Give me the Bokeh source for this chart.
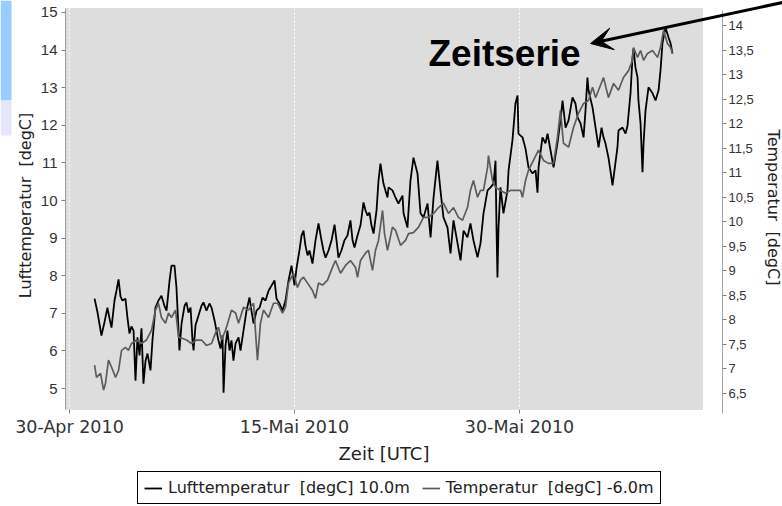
import math
from bokeh.plotting import figure
from bokeh.models import (Range1d, LinearAxis, FixedTicker, Legend, LegendItem,
                          BoxAnnotation, Label, Arrow, VeeHead)
from bokeh.embed import file_html
from bokeh.resources import INLINE

# ---------------- data (days since 30-Apr-2010 00 UTC) ----------------
luft_days = [1.67, 1.87, 2.13, 2.33, 2.53, 2.67, 2.80, 3.00, 3.13, 3.27, 3.40, 3.53, 3.73, 3.87, 4.00,
             4.13, 4.27, 4.40, 4.53, 4.67, 4.80, 4.93, 5.07, 5.20, 5.40, 5.53, 5.73, 5.93, 6.13, 6.33,
             6.47, 6.67, 6.80, 7.00, 7.13, 7.27, 7.33, 7.47, 7.67, 7.80, 7.93, 8.07, 8.20, 8.27, 8.40,
             8.60, 8.80, 8.93, 9.13, 9.33, 9.47, 9.67, 9.80, 9.93, 10.07, 10.20, 10.27, 10.40, 10.53,
             10.67, 10.80, 10.93, 11.07, 11.27,
             11.40, 11.60, 11.80, 12.00, 12.13, 12.27, 12.47, 12.67, 12.87, 13.07, 13.27, 13.47, 13.67,
             13.80, 14.00, 14.20, 14.40, 14.60, 14.80, 15.00, 15.13, 15.33, 15.47, 15.60, 15.73, 15.87,
             16.00, 16.20, 16.40, 16.60, 16.80, 16.93, 17.07, 17.27, 17.47, 17.67, 17.80, 17.93, 18.13,
             18.33, 18.53, 18.73, 18.87, 19.00, 19.20, 19.40, 19.60, 19.73, 19.87, 20.00, 20.13, 20.27,
             20.47, 20.60, 20.73, 20.93,
             21.20, 21.27, 21.53, 21.73, 21.93, 22.20, 22.27, 22.53, 22.73, 22.93, 23.20, 23.40, 23.60,
             23.87, 24.07, 24.27, 24.53, 24.73, 24.93, 25.20, 25.40, 25.60, 25.87, 26.07, 26.27, 26.53,
             26.73, 26.93, 27.20, 27.40, 27.60, 27.87, 28.07, 28.27, 28.40, 28.47, 28.53, 28.60, 28.73,
             28.93, 29.20, 29.27, 29.53, 29.73, 29.87, 29.93, 30.20, 30.40,
             30.60, 30.87, 31.07, 31.20, 31.27, 31.53, 31.73, 31.87, 32.07, 32.27, 32.53, 32.73, 32.87,
             33.07, 33.27, 33.53, 33.73, 33.87, 34.07, 34.27, 34.40, 34.53, 34.60, 34.87, 35.07, 35.20,
             35.27, 35.47, 35.60, 35.73, 35.93, 36.13, 36.20, 36.33, 36.53, 36.60, 36.87, 37.07, 37.20,
             37.40, 37.53, 37.60, 37.73, 37.87, 37.93, 38.07, 38.20, 38.27, 38.40, 38.60, 38.87, 39.07,
             39.27, 39.40, 39.53, 39.73, 39.93, 40.07, 40.20]
luft_vals = [7.39, 7.02, 6.41, 6.76, 7.15, 6.86, 6.62, 7.34, 7.60, 7.90, 7.45, 7.34, 7.39, 6.86, 6.46,
             6.65, 6.54, 5.21, 6.36, 5.88, 6.60, 5.13, 5.74, 5.93, 5.48, 6.28, 7.15, 7.34, 7.47, 7.20,
             7.07, 7.87, 8.27, 8.27, 7.69, 6.54, 6.01, 6.73, 7.20, 7.29, 7.02, 7.15, 6.28, 6.01, 6.68,
             6.94, 7.20, 7.29, 7.07, 7.26, 7.15, 6.81, 6.54, 6.28, 6.06, 6.41, 4.89, 6.14, 6.54,
             6.01, 6.28, 5.74, 6.20, 6.36,
             6.01, 6.54, 7.07, 7.42, 7.07, 6.73, 7.07, 7.15, 7.42, 7.34, 7.60, 7.74, 7.87,
             7.39, 7.26, 7.07, 7.34, 7.87, 8.27, 7.74, 8.19, 8.67, 9.07, 9.20, 8.80, 8.54,
             8.67, 8.32, 8.94, 9.39, 8.94, 8.67, 8.48, 8.67, 8.94, 9.36, 8.94, 8.48, 8.67,
             8.94, 9.07, 9.47, 8.94, 8.75, 9.07, 9.34, 9.95, 9.74, 9.60, 9.68, 9.34, 9.12,
             9.74, 10.53, 10.98, 10.45,
             10.08, 10.35, 10.27, 10.08, 9.92, 10.13, 9.66, 9.28, 10.53, 11.14, 10.72, 9.66, 9.55,
             9.92, 9.02, 10.08, 11.06, 10.27, 9.55, 9.28, 8.59, 9.47, 8.86, 8.41, 9.20, 9.02,
             9.39, 8.94, 8.49, 8.86, 9.66, 10.27, 10.35, 10.45, 11.06, 9.20, 7.95, 9.28, 10.35,
             9.66, 10.27, 10.80, 11.60, 12.58, 12.79, 11.78, 11.68, 11.38,
             10.88, 10.72, 10.80, 10.21, 10.88, 11.68, 11.52, 11.78, 11.33, 10.88, 11.52, 12.13, 12.66,
             11.94, 12.13, 12.74, 12.58, 12.21, 12.05, 11.68, 12.39, 13.27, 12.93, 12.47, 11.94, 11.60,
             11.41, 11.94, 11.68, 11.52, 11.14, 10.61, 10.40, 10.80, 11.41, 11.86, 11.94, 11.78, 11.99,
             12.85, 13.80, 14.04, 13.54, 13.27, 12.66, 12.05, 10.75, 11.52, 12.39, 13.01, 12.85, 12.66,
             12.93, 13.46, 14.18, 14.60, 14.34, 14.18, 13.91]

boden_days = [1.67, 1.80, 2.07, 2.27, 2.40, 2.60, 2.80, 3.07, 3.27, 3.47, 3.73, 3.93, 4.13, 4.47, 4.80,
              5.13, 5.47, 5.73, 5.93, 6.13, 6.40, 6.60, 6.80, 7.07, 7.27, 7.47, 7.80, 8.13, 8.47, 8.80,
              9.13, 9.47, 9.73, 9.93, 10.13, 10.40, 10.60, 10.80, 11.07, 11.27,
              11.60, 11.93, 12.27, 12.53, 12.73, 12.93, 13.27, 13.60, 13.87, 14.20, 14.40, 14.60, 14.93,
              15.20, 15.40, 15.60, 15.87, 16.20, 16.40, 16.60, 16.87, 17.20, 17.53, 17.73, 18.07, 18.40,
              18.73, 19.07, 19.20, 19.40, 19.73, 19.93, 20.20, 20.40, 20.60, 20.87, 21.00,
              21.20, 21.53, 21.73, 22.07, 22.40, 22.60, 22.93, 23.27, 23.60, 23.93, 24.27, 24.60, 24.93,
              25.27, 25.60, 25.93, 26.20, 26.53, 26.73, 26.93, 27.20, 27.40, 27.60, 27.87, 27.93, 28.20,
              28.40, 28.73, 29.07, 29.40, 29.73, 30.07, 30.20, 30.40, 30.60,
              30.93, 31.27, 31.60, 31.93, 32.27, 32.53, 32.73, 32.93, 33.27, 33.60, 33.93, 34.27, 34.60,
              34.87, 35.07, 35.27, 35.60, 35.93, 36.27, 36.60, 36.93, 37.27, 37.53, 37.60, 37.87, 38.07,
              38.27, 38.53, 38.87, 39.20, 39.40, 39.60, 39.87, 40.07, 40.20]
boden_vals = [7.08, 6.83, 6.91, 6.57, 6.71, 7.18, 7.04, 6.83, 6.97, 7.38, 7.44, 7.38, 7.52, 7.59, 7.52,
              7.59, 7.79, 8.20, 8.34, 8.05, 7.93, 8.14, 8.05, 8.20, 7.65, 7.63, 7.59, 7.52, 7.59, 7.59,
              7.48, 7.52, 7.73, 7.85, 7.59, 7.79, 7.99, 8.20, 8.14, 7.93,
              8.26, 8.20, 8.34, 7.18, 7.93, 8.20, 8.05, 8.34, 8.34, 8.14, 8.26, 8.75, 8.95,
              8.66, 8.81, 8.87, 8.75, 8.60, 8.44, 8.75, 8.71, 8.81, 9.07, 9.21, 8.95, 9.11,
              9.21, 9.07, 8.87, 9.21, 9.36, 9.42, 9.01, 9.42, 9.62, 10.23, 9.76,
              9.42, 9.89, 9.83, 9.52, 9.62, 9.76, 9.78, 9.89, 10.09, 10.09, 10.17, 10.29, 10.38,
              10.17, 10.29, 10.09, 10.03, 10.29, 10.64, 10.84, 10.50, 10.64, 10.64, 11.11, 11.35, 10.84,
              10.70, 10.64, 10.58, 10.64, 10.64, 10.64, 10.50, 10.84, 11.05,
              11.25, 11.46, 11.25, 11.19, 11.19, 11.72, 12.27, 11.60, 11.52, 11.92, 12.21, 12.41, 12.47,
              12.74, 12.53, 12.68, 12.94, 12.53, 12.82, 12.68, 12.94, 13.08, 13.29, 13.55, 13.35, 13.49,
              13.29, 13.43, 13.49, 13.35, 13.55, 13.90, 13.63, 13.55, 13.43]

series_labels = ["Lufttemperatur\u00a0 [degC] 10.0m", "Temperatur\u00a0 [degC] -6.0m"]
left_axis_title = "Lufttemperatur\u00a0 [degC]"
right_axis_title = "Temperatur\u00a0 [degC]"
x_axis_title = "Zeit [UTC]"
annotation_text = "Zeitserie"
x_tick_pos = [0, 15, 30]
x_tick_labels = ["30-Apr 2010", "15-Mai 2010", "30-Mai 2010"]
left_ticks = [5, 6, 7, 8, 9, 10, 11, 12, 13, 14, 15]
right_ticks = [6.5, 7, 7.5, 8, 8.5, 9, 9.5, 10, 10.5, 11, 11.5, 12, 12.5, 13, 13.5, 14]
right_tick_labels = ["6,5", "7", "7,5", "8", "8,5", "9", "9,5", "10", "10,5", "11", "11,5",
                     "12", "12,5", "13", "13,5", "14"]

# ---------------- geometry: the frame covers the whole canvas ----------------
W, H = 782, 506
X0, X1 = -4.6, 47.533                # canvas extent in days
PLOT_START, PLOT_END = -0.267, 42.2  # grey data area
RIGHT_AXIS_X = 43.533                # right axis sits 20 px right of the grey area
YL0, YL1 = 1.862, 15.319             # left scale over canvas height
YL_BOT, YL_TOP = 4.441, 15.106       # grey data area
YR0, YR1 = 4.198, 14.509             # right scale over canvas height
YR_BOT, YR_TOP = 6.09, 14.31         # extent of the right axis line

p = figure(width=W, height=H, output_backend="svg", toolbar_location=None, title=None,
           x_range=Range1d(X0, X1), y_range=Range1d(YL0, YL1),
           min_border=0, min_border_left=0, min_border_right=0,
           min_border_top=0, min_border_bottom=0)
p.extra_y_ranges = {"right": Range1d(YR0, YR1)}
p.background_fill_color = "white"
p.border_fill_color = "white"
p.outline_line_color = None

# fragments of the surrounding screenshot at the left edge
p.add_layout(BoxAnnotation(left=0, right=11, bottom=406, top=506,
                           left_units="screen", right_units="screen",
                           bottom_units="screen", top_units="screen",
                           fill_color="#99ccff", fill_alpha=1, line_color=None, level="image"))
p.add_layout(BoxAnnotation(left=0, right=11, bottom=371, top=406,
                           left_units="screen", right_units="screen",
                           bottom_units="screen", top_units="screen",
                           fill_color="#e6e6fa", fill_alpha=1, line_color=None, level="image"))

plot_box = BoxAnnotation(left=PLOT_START, right=PLOT_END, bottom=YL_BOT, top=YL_TOP,
                         fill_color="#dddddd", fill_alpha=1.0,
                         line_color="#b8b8b8", line_width=1, level="image")
p.add_layout(plot_box)

p.xgrid.ticker = FixedTicker(ticks=x_tick_pos)
p.xgrid.grid_line_color = "white"
p.xgrid.grid_line_dash = "2 2"
p.xgrid.grid_line_width = 1
p.xgrid.bounds = (YL_BOT, YL_TOP)
p.ygrid.visible = False

r1 = p.line(luft_days, luft_vals, line_color="black", line_width=1.8)
r2 = p.line(boden_days, boden_vals, line_color="#5c5c5c", line_width=1.7, y_range_name="right")

# x axis, pinned to the bottom of the grey area
xa = p.xaxis[0]
xa.fixed_location = YL_BOT
xa.ticker = FixedTicker(ticks=x_tick_pos)
xa.major_label_overrides = dict(zip(x_tick_pos, x_tick_labels))
xa.axis_line_color = None
xa.major_tick_line_color = "#808080"
xa.major_tick_out = 4
xa.major_tick_in = 0
xa.minor_tick_line_color = None
xa.major_label_standoff = 3
xa.major_label_text_font = "DejaVu Sans"
xa.major_label_text_font_size = "17.5px"
xa.major_label_text_color = "#333333"

# left axis, pinned to the left edge of the grey area
ya = p.yaxis[0]
ya.fixed_location = PLOT_START
ya.bounds = (YL_BOT, YL_TOP)
ya.ticker = FixedTicker(ticks=left_ticks)
ya.axis_line_color = "#a0a0a0"
ya.major_tick_line_color = "#808080"
ya.major_tick_out = 4
ya.major_tick_in = 0
ya.minor_tick_line_color = None
ya.major_label_standoff = 4
ya.major_label_text_font = "Liberation Sans"
ya.major_label_text_font_size = "15px"
ya.major_label_text_color = "#333333"

# right axis (second scale), offset to the right of the grey area
ra = LinearAxis(y_range_name="right", fixed_location=RIGHT_AXIS_X, bounds=(YR_BOT, YR_TOP),
                ticker=FixedTicker(ticks=right_ticks),
                major_label_overrides=dict(zip(right_ticks, right_tick_labels)))
ra.axis_line_color = "#a0a0a0"
ra.major_tick_line_color = "#808080"
ra.major_tick_out = 4
ra.major_tick_in = 0
ra.minor_tick_line_color = None
ra.major_label_standoff = 2
ra.major_label_text_font = "Liberation Sans"
ra.major_label_text_font_size = "13px"
ra.major_label_text_color = "#333333"
p.add_layout(ra, "right")

# axis titles
p.add_layout(Label(x=25, y=301, x_units="screen", y_units="screen", text=left_axis_title,
                   angle=math.pi / 2, text_align="center", text_baseline="middle",
                   text_font="DejaVu Sans", text_font_size="16px", text_color="#222222"))
p.add_layout(Label(x=773, y=299, x_units="screen", y_units="screen", text=right_axis_title,
                   angle=-math.pi / 2, text_align="center", text_baseline="middle",
                   text_font="DejaVu Sans", text_font_size="16px", text_color="#222222"))
p.add_layout(Label(x=(PLOT_START + PLOT_END) / 2, y=53, y_units="screen", text=x_axis_title,
                   text_align="center", text_baseline="middle",
                   text_font="DejaVu Sans", text_font_size="18px", text_color="#222222"))

# legend below the plot
legend = Legend(items=[LegendItem(label=series_labels[0], renderers=[r1]),
                       LegendItem(label=series_labels[1], renderers=[r2])],
                location=(137, 2), orientation="horizontal",
                border_line_color="black", border_line_width=1, border_line_alpha=1,
                background_fill_color="white", background_fill_alpha=1,
                label_text_font="DejaVu Sans", label_text_font_size="16px",
                label_text_color="#222222",
                glyph_width=18, glyph_height=18, label_height=18, label_standoff=6,
                spacing=12, padding=6, margin=0)
p.add_layout(legend)

# annotation
p.add_layout(Label(x=428, y=453, x_units="screen", y_units="screen", text=annotation_text,
                   text_font="Liberation Sans", text_font_style="bold", text_font_size="37px",
                   text_color="black", text_baseline="middle"))
p.add_layout(Arrow(end=VeeHead(size=22, fill_color="black", line_color="black"),
                   x_start=782, y_start=504, x_end=590, y_end=463,
                   start_units="screen", end_units="screen",
                   line_color="black", line_width=3))

open("out.html", "w").write(file_html(p, INLINE))
